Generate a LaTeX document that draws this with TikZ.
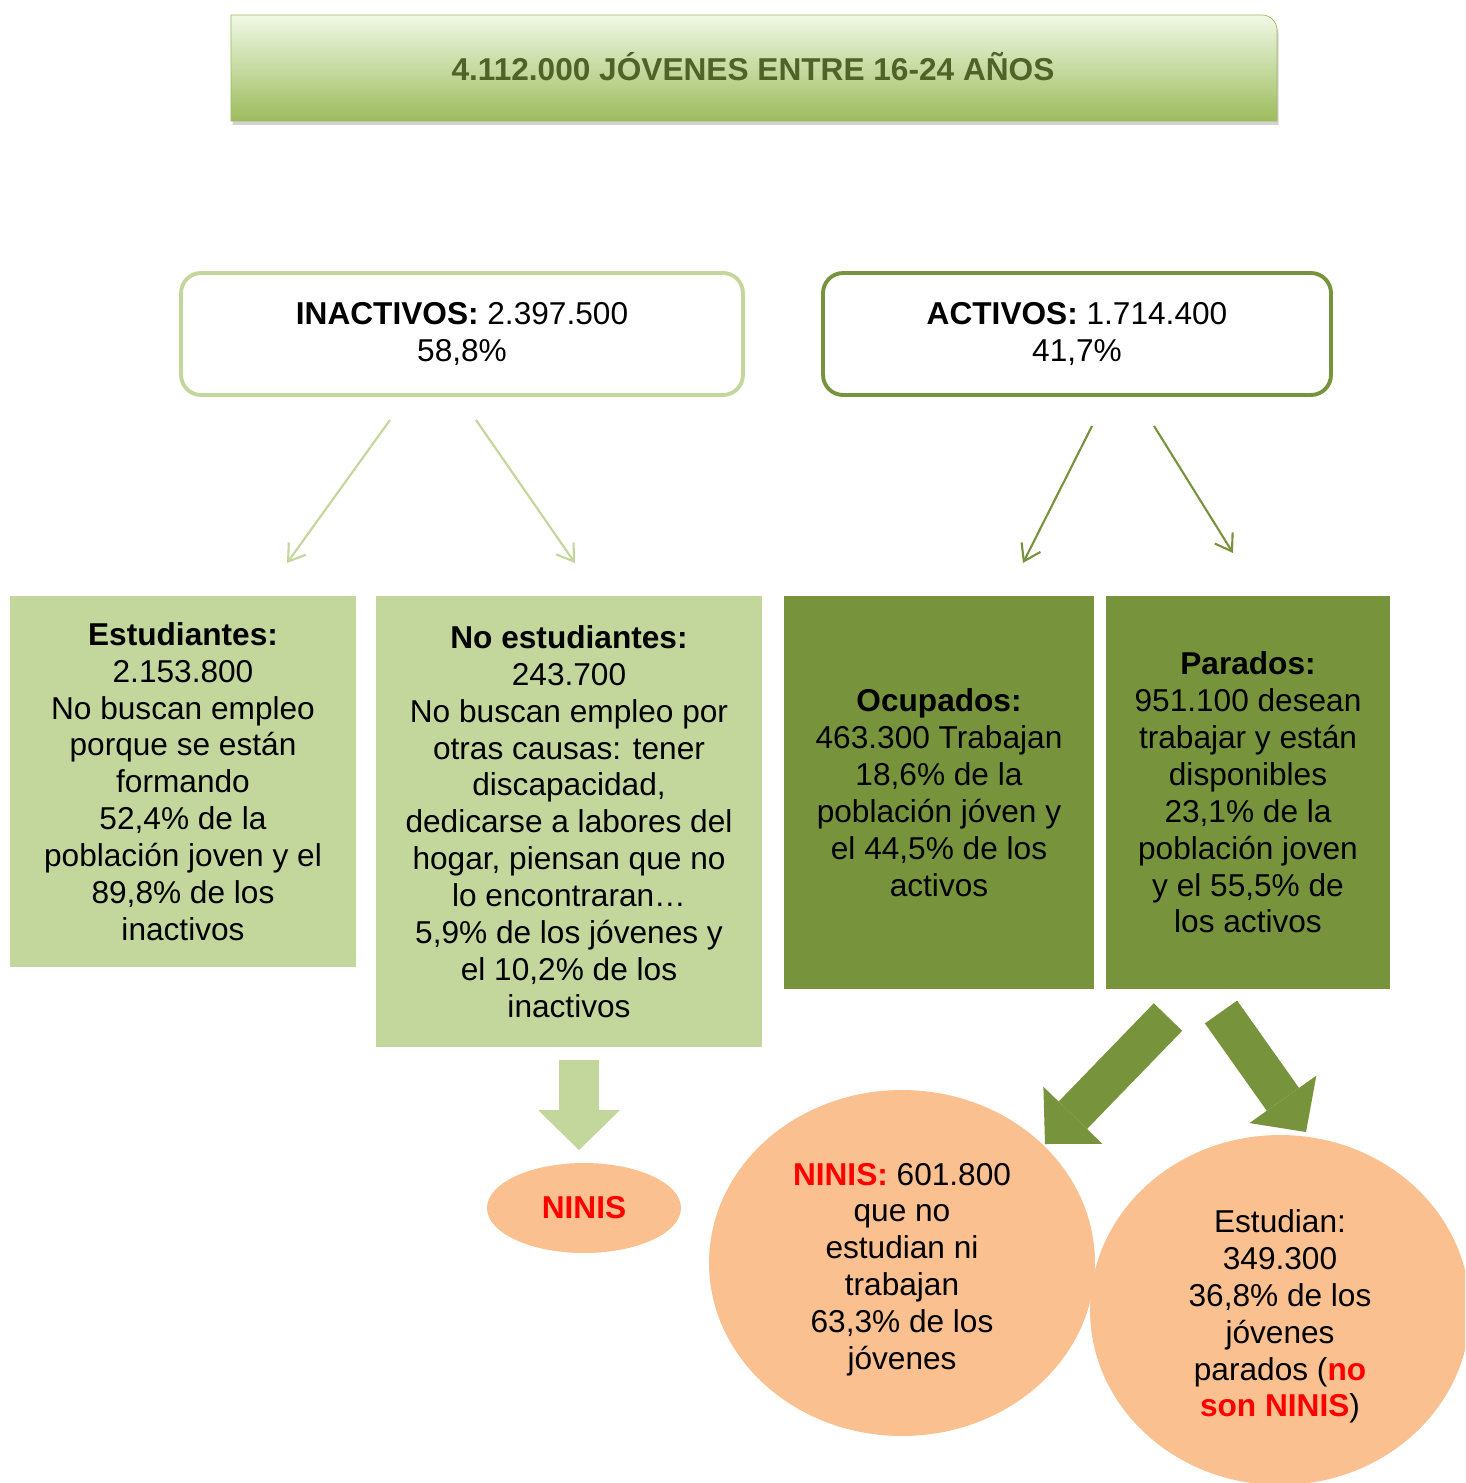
\documentclass[tikz,border=0pt]{standalone}
\usepackage{fontspec}
\setmainfont{Liberation Sans}
\usetikzlibrary{shapes.geometric}
\usetikzlibrary{arrows.meta}
\usetikzlibrary{shadows}
\definecolor{light-olive}{HTML}{C3D69B}
\definecolor{dark-olive}{HTML}{77933C}
\definecolor{peach}{HTML}{FAC090}
\definecolor{title-text}{HTML}{4F6228}
\definecolor{title-top}{HTML}{F0F8E6}
\definecolor{title-bottom}{HTML}{9DBC5C}
\definecolor{title-line}{HTML}{9BBB59}
\definecolor{ninis-red}{HTML}{FF0000}
\tikzstyle{bodytext}=[font=\fontsize{18}{21}\selectfont, align=center, inner sep=0pt]
\tikzstyle{framebox}=[bodytext, draw, fill=white, line width=2.2pt, rounded corners=0.4cm, minimum height=2.44cm]
\tikzstyle{lightbox}=[bodytext, fill=light-olive]
\tikzstyle{darkbox}=[bodytext, fill=dark-olive]
\tikzstyle{blob}=[bodytext, ellipse, fill=peach]
\tikzstyle{blobtext}=[bodytext, yshift=-0.13cm]
\tikzstyle{thinarrow}=[line width=1.2pt, -{Straight Barb[length=9pt,width=12pt]}]
\tikzstyle{fatarrow}=[line width=0.79cm, -{Triangle[length=0.8cm,width=1.64cm,line width=0pt]}]
\newcommand{\red}[1]{\textcolor{ninis-red}{\bfseries #1}}

\begin{document}
\begin{tikzpicture}[x=0.02cm, y=-0.02cm]
\clip (0,0) rectangle (1465,1483);
\fill[white] (0,0) rectangle (1465,1483);
% title banner
\path[draw=title-line, top color=title-top, bottom color=title-bottom,
	drop shadow={opacity=0.35, shadow xshift=0.03cm, shadow yshift=-0.08cm}]
	(231,121) -- (231,15) -- (1262,15) arc[start angle=90, end angle=0, radius=0.3cm] -- (1277,121) -- cycle;
\node[bodytext, font=\fontsize{18}{21}\selectfont\bfseries, text=title-text] (title) at (753,67) {4.112.000 JÓVENES ENTRE 16-24 AÑOS};
% second level
\node[framebox, draw=light-olive, minimum width=11.24cm] (inactivos) at (462,334) {\textbf{INACTIVOS:} 2.397.500\\58,8\%};
\node[framebox, draw=dark-olive, minimum width=10.16cm] (activos) at (1077,334) {\textbf{ACTIVOS:} 1.714.400\\41,7\%};
% third level
\node[lightbox, minimum width=6.92cm, minimum height=7.42cm] (estudiantes) at (183,781.5) {\textbf{Estudiantes:}\\2.153.800\\No buscan empleo\\porque se están\\formando\\52,4\% de la\\población joven y el\\89,8\% de los\\inactivos};
\node[lightbox, minimum width=7.72cm, minimum height=9.02cm] (noestudiantes) at (569,821.5) {\textbf{No estudiantes:}\\243.700\\No buscan empleo por\\otras causas: tener\\discapacidad,\\dedicarse a labores del\\hogar, piensan que no\\lo encontraran…\\5,9\% de los jóvenes y\\el 10,2\% de los\\inactivos};
\node[darkbox, minimum width=6.2cm, minimum height=7.86cm] (ocupados) at (939,792.5) {\textbf{Ocupados:}\\463.300 Trabajan\\18,6\% de la\\población jóven y\\el 44,5\% de los\\activos};
\node[darkbox, minimum width=5.68cm, minimum height=7.86cm] (parados) at (1248,792.5) {\textbf{Parados:}\\951.100 desean\\trabajar y están\\disponibles\\23,1\% de la\\población joven\\y el 55,5\% de\\los activos};
% bottom level
\node[blob, minimum width=3.88cm, minimum height=1.8cm] (ninis) at (584,1208) {\red{NINIS}};
\node[blob, minimum width=7.72cm, minimum height=6.92cm,
	label={[blobtext]center:\red{NINIS:} 601.800\\que no\\estudian ni\\trabajan\\63,3\% de los\\jóvenes}] (ninisparados) at (902,1263) {};
\node[blob, minimum width=7.6cm, minimum height=7cm,
	label={[blobtext]center:Estudian:\\349.300\\36,8\% de los\\jóvenes\\parados (\red{no}\\\red{son NINIS})}] (estudian) at (1280,1310) {};
% arrow ends
\coordinate (ina-a) at (390,420);
\coordinate (ina-b) at (287,563);
\coordinate (ina-c) at (476,420);
\coordinate (ina-d) at (575,563);
\coordinate (act-a) at (1092,426);
\coordinate (act-b) at (1023,563);
\coordinate (act-c) at (1154,426);
\coordinate (act-d) at (1233,553);
\coordinate (noest-a) at (579,1060);
\coordinate (noest-b) at (579,1150);
\coordinate (par-a) at (1168,1017);
\coordinate (par-b) at (1045,1144);
\coordinate (par-c) at (1221,1012);
\coordinate (par-d) at (1306,1132);
% thin arrows
\draw[thinarrow, light-olive] (ina-a) -- (ina-b);
\draw[thinarrow, light-olive] (ina-c) -- (ina-d);
\draw[thinarrow, dark-olive] (act-a) -- (act-b);
\draw[thinarrow, dark-olive] (act-c) -- (act-d);
% block arrows
\draw[fatarrow, light-olive] (noest-a) -- (noest-b);
\draw[fatarrow, dark-olive] (par-a) -- (par-b);
\draw[fatarrow, dark-olive] (par-c) -- (par-d);
\end{tikzpicture}
\end{document}
